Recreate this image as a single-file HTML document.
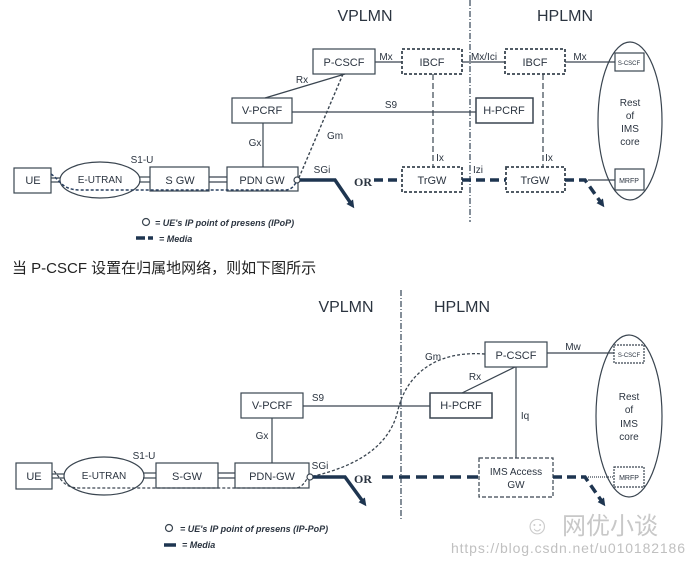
<!DOCTYPE html>
<html><head><meta charset="utf-8"><style>
html,body{margin:0;padding:0;background:#fff;width:689px;height:567px;overflow:hidden}
svg{display:block}
text{font-family:"Liberation Sans",Arial,sans-serif;fill:#2b3440}
</style></head><body>
<svg width="689" height="567" viewBox="0 0 689 567" xmlns="http://www.w3.org/2000/svg">
<defs>
<marker id="ar" markerWidth="8" markerHeight="8" refX="4" refY="4" orient="auto" markerUnits="userSpaceOnUse"><path d="M0,0 L8,4 L0,8 z" fill="#1e3550"/></marker>
</defs>
<g stroke="#3a4550" fill="none" stroke-width="1.2">
<line x1="470" y1="0" x2="470" y2="222" stroke-dasharray="6,2,1,2" stroke="#345"/>
<rect x="313" y="49" width="62" height="25" fill="#fff"/>
<rect x="402" y="49" width="60" height="25" stroke-dasharray="3,2" stroke-width="1.8"/>
<rect x="505" y="49" width="60" height="25" stroke-dasharray="3,2" stroke-width="1.8"/>
<line x1="375" y1="62" x2="402" y2="62"/>
<line x1="462" y1="62" x2="505" y2="62"/>
<line x1="565" y1="62" x2="615" y2="62"/>
<ellipse cx="630" cy="121" rx="32" ry="79"/>
<rect x="615" y="53" width="29" height="18" fill="#fff"/>
<rect x="615" y="169" width="29" height="21" fill="#fff"/>
<rect x="232" y="98" width="60" height="25"/>
<rect x="476" y="98" width="57" height="25" stroke-width="1.5"/>
<line x1="292" y1="112" x2="476" y2="112"/>
<line x1="265" y1="98" x2="345" y2="74"/>
<line x1="343" y1="74" x2="298" y2="180" stroke-dasharray="3,2" stroke-width="1.4"/>
<line x1="263" y1="123" x2="263" y2="167"/>
<line x1="433" y1="74" x2="433" y2="167" stroke-dasharray="6,3"/>
<line x1="543" y1="74" x2="543" y2="167" stroke-dasharray="6,3"/>
<rect x="14" y="168" width="37" height="25"/>
<ellipse cx="100" cy="180" rx="40" ry="18"/>
<rect x="150" y="167" width="59" height="24"/>
<rect x="227" y="167" width="71" height="24"/>
<line x1="51" y1="178" x2="60" y2="178"/><line x1="51" y1="182" x2="60" y2="182"/>
<line x1="139" y1="177" x2="150" y2="177"/><line x1="139" y1="182" x2="150" y2="182"/>
<line x1="209" y1="177" x2="227" y2="177"/><line x1="209" y1="182" x2="227" y2="182"/>
<path d="M51,174 C60,180 62,190 80,190 L285,190 C292,190 295,185 297,180" stroke-dasharray="3,2" stroke-width="1.5" stroke="#2a4060"/>
<rect x="402" y="167" width="60" height="25" stroke-dasharray="3,2" stroke-width="1.8"/>
<rect x="506" y="167" width="59" height="25" stroke-dasharray="3,2" stroke-width="1.8"/>
<circle cx="297" cy="180" r="3" fill="#fff"/>
<path d="M300,180 L335,180 L352,205" stroke="#1e3550" stroke-width="3.5" marker-end="url(#ar)"/>
<line x1="374" y1="180" x2="402" y2="180" stroke="#1e3550" stroke-width="3.5" stroke-dasharray="9,5"/>
<line x1="462" y1="180" x2="506" y2="180" stroke="#1e3550" stroke-width="3.5" stroke-dasharray="9,5"/>
<path d="M565,180 L585,180 L602,204" stroke="#1e3550" stroke-width="3.5" stroke-dasharray="9,5" marker-end="url(#ar)"/>
<line x1="588" y1="180" x2="615" y2="180"/>
<circle cx="146" cy="222" r="3.5"/>
<line x1="136" y1="238" x2="153" y2="238" stroke="#1e3550" stroke-width="3.5" stroke-dasharray="9,3"/>
<line x1="401" y1="290" x2="401" y2="519" stroke-dasharray="6,2,1,2" stroke="#345"/>
<rect x="485" y="342" width="62" height="25"/>
<line x1="547" y1="353" x2="614" y2="353"/>
<ellipse cx="629" cy="416" rx="33" ry="81"/>
<rect x="614" y="345" width="30" height="18" fill="#fff" stroke-dasharray="2,1"/>
<rect x="614" y="467" width="30" height="20" fill="#fff" stroke-dasharray="2,1"/>
<rect x="430" y="393" width="62" height="25" stroke-width="1.5"/>
<rect x="241" y="393" width="62" height="25"/>
<line x1="303" y1="406" x2="430" y2="406"/>
<line x1="515" y1="367" x2="462" y2="393"/>
<line x1="516" y1="367" x2="516" y2="458"/>
<rect x="479" y="458" width="74" height="39" stroke-dasharray="4,2"/>
<line x1="272" y1="418" x2="272" y2="463"/>
<rect x="16" y="463" width="36" height="26"/>
<ellipse cx="104" cy="476" rx="40" ry="19"/>
<rect x="156" y="463" width="62" height="25"/>
<rect x="235" y="463" width="74" height="25"/>
<line x1="52" y1="474" x2="64" y2="474"/><line x1="52" y1="478" x2="64" y2="478"/>
<line x1="143" y1="473" x2="156" y2="473"/><line x1="143" y1="478" x2="156" y2="478"/>
<line x1="218" y1="473" x2="235" y2="473"/><line x1="218" y1="478" x2="235" y2="478"/>
<path d="M54,471 C62,480 64,488 80,488 L295,488 C302,488 305,482 308,477" stroke-dasharray="3,2" stroke-width="1.2"/>
<path d="M485,354 C430,350 405,380 398,410 C388,455 340,470 310,477" stroke-dasharray="3,2" stroke-width="1.3"/>
<circle cx="310" cy="477" r="3" fill="#fff"/>
<path d="M313,477 L345,477 L364,503" stroke="#1e3550" stroke-width="3.5" marker-end="url(#ar)"/>
<line x1="382" y1="477" x2="479" y2="477" stroke="#1e3550" stroke-width="3.5" stroke-dasharray="11,6"/>
<path d="M553,477 L585,477 L603,503" stroke="#1e3550" stroke-width="3.5" stroke-dasharray="9,5" marker-end="url(#ar)"/>
<line x1="588" y1="477" x2="614" y2="477" stroke-dasharray="1,1"/>
<circle cx="169" cy="528" r="3.5"/>
<line x1="164" y1="545" x2="176" y2="545" stroke="#1e3550" stroke-width="3.5"/>
</g>
<g font-size="11" text-anchor="middle">
<text x="365" y="21" font-size="16">VPLMN</text>
<text x="565" y="21" font-size="16">HPLMN</text>
<text x="344" y="66">P-CSCF</text>
<text x="432" y="66">IBCF</text>
<text x="535" y="66">IBCF</text>
<text x="386" y="60" font-size="10">Mx</text>
<text x="484" y="60" font-size="10">Mx/Ici</text>
<text x="580" y="60" font-size="10">Mx</text>
<text x="629" y="65" font-size="6">S-CSCF</text>
<text x="629" y="183" font-size="7">MRFP</text>
<text x="630" y="106" font-size="10">Rest</text>
<text x="630" y="119" font-size="10">of</text>
<text x="630" y="132" font-size="10">IMS</text>
<text x="630" y="145" font-size="10">core</text>
<text x="262" y="114">V-PCRF</text>
<text x="504" y="114">H-PCRF</text>
<text x="391" y="108" font-size="10">S9</text>
<text x="302" y="83" font-size="10">Rx</text>
<text x="335" y="139" font-size="10">Gm</text>
<text x="255" y="146" font-size="10">Gx</text>
<text x="33" y="184">UE</text>
<text x="100" y="183" font-size="10">E-UTRAN</text>
<text x="180" y="184">S GW</text>
<text x="262" y="184">PDN GW</text>
<text x="142" y="163" font-size="10">S1-U</text>
<text x="322" y="173" font-size="10">SGi</text>
<text x="440" y="161" font-size="10">Ix</text>
<text x="549" y="161" font-size="10">Ix</text>
<text x="478" y="173" font-size="10">Izi</text>
<text x="432" y="184">TrGW</text>
<text x="535" y="184">TrGW</text>
<text x="363" y="186" font-size="12" font-weight="bold" style="font-family:'Liberation Serif',serif">OR</text>
</g>
<g font-size="9" font-style="italic" font-weight="bold">
<text x="155" y="226">= UE's  IP point of presens (IPoP)</text>
<text x="159" y="242">= Media</text>
</g>
<text x="12" y="273" font-size="15" style="font-family:'Liberation Sans','Noto Sans CJK SC',sans-serif;fill:#222">当 P-CSCF 设置在归属地网络，则如下图所示</text>
<g font-size="11" text-anchor="middle">
<text x="346" y="312" font-size="16">VPLMN</text>
<text x="462" y="312" font-size="16">HPLMN</text>
<text x="516" y="359">P-CSCF</text>
<text x="573" y="350" font-size="10">Mw</text>
<text x="629" y="357" font-size="6">S-CSCF</text>
<text x="629" y="480" font-size="7">MRFP</text>
<text x="629" y="400" font-size="10">Rest</text>
<text x="629" y="413" font-size="10">of</text>
<text x="629" y="427" font-size="10">IMS</text>
<text x="629" y="440" font-size="10">core</text>
<text x="461" y="409">H-PCRF</text>
<text x="272" y="409">V-PCRF</text>
<text x="318" y="401" font-size="10">S9</text>
<text x="475" y="380" font-size="10">Rx</text>
<text x="525" y="419" font-size="10">Iq</text>
<text x="433" y="360" font-size="10">Gm</text>
<text x="262" y="439" font-size="10">Gx</text>
<text x="516" y="475" font-size="10">IMS Access</text>
<text x="516" y="488" font-size="10">GW</text>
<text x="34" y="480">UE</text>
<text x="104" y="479" font-size="10">E-UTRAN</text>
<text x="187" y="480">S-GW</text>
<text x="272" y="480">PDN-GW</text>
<text x="144" y="459" font-size="10">S1-U</text>
<text x="320" y="469" font-size="10">SGi</text>
<text x="363" y="483" font-size="12" font-weight="bold" style="font-family:'Liberation Serif',serif">OR</text>
</g>
<g font-size="9" font-style="italic" font-weight="bold">
<text x="180" y="532">= UE's IP point of presens (IP-PoP)</text>
<text x="182" y="548">= Media</text>
</g>
<text x="562" y="534" font-size="24" style="font-family:'Liberation Sans','Noto Sans CJK SC',sans-serif;fill:#c8c8c8">网优小谈</text>
<text x="524" y="534" font-size="26" style="fill:#cccccc">☺</text>
<text x="451" y="553" font-size="14" textLength="234" style="fill:#c0c0c0">https://blog.csdn.net/u010182186</text>
</svg>
</body></html>
